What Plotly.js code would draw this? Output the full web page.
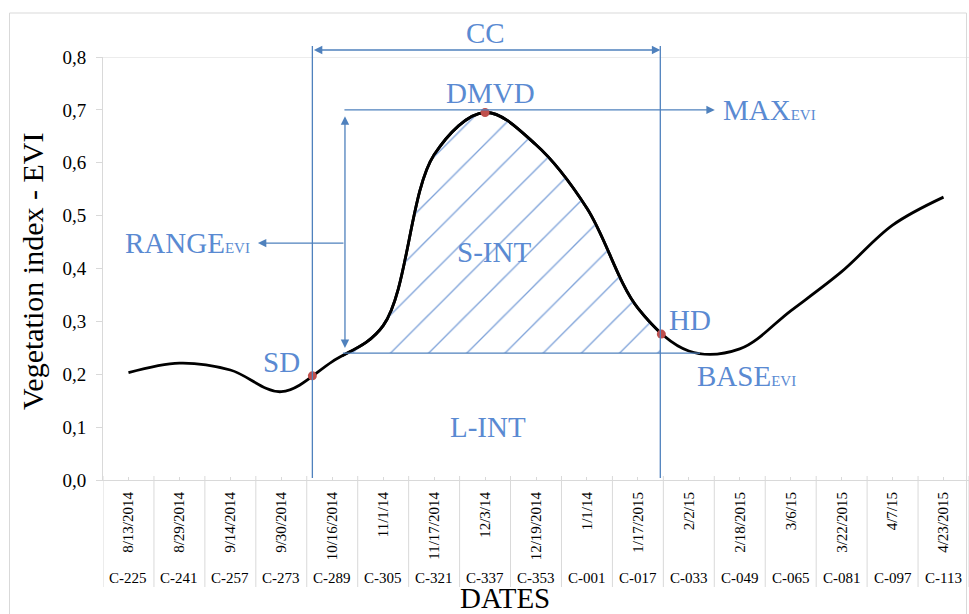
<!DOCTYPE html>
<html>
<head>
<meta charset="utf-8">
<script src="https://cdn.plot.ly/plotly-3.0.1.min.js"></script>
<style>html,body{margin:0;padding:0;background:#fff;}#chart{width:969px;height:614px;}</style>
</head>
<body>
<div id="chart"></div>
<script>
// ---- data ----
const dates = ["8/13/2014","8/29/2014","9/14/2014","9/30/2014","10/16/2014","11/1/14","11/17/2014","12/3/14","12/19/2014","1/1/14","1/17/2015","2/2/15","2/18/2015","3/6/15","3/22/2015","4/7/15","4/23/2015"];
const codes = ["C-225","C-241","C-257","C-273","C-289","C-305","C-321","C-337","C-353","C-001","C-017","C-033","C-049","C-065","C-081","C-097","C-113"];
const evi = [0.203,0.221,0.208,0.167,0.224,0.292,0.615,0.695,0.634,0.514,0.325,0.244,0.248,0.320,0.394,0.482,0.535];
const eventNames = ["SD","DMVD","HD"];
const eventX = [3.61, 7.0, 10.46];
const eventY = [0.197, 0.695, 0.276];
const baseEVI = 0.24;
const maxEVI = 0.70;
const hatchStart = 4.21;   // where the curve rises through BASE
const hatchEnd = 10.44;    // HD date

const idx = dates.map((d,i)=>i);
const n = dates.length;
const lineBlue = '#4F81BD';
const textBlue = '#5A8AD2';
const gray = '#D9D9D9';
const serif = 'Liberation Serif, Times New Roman, serif';

const traces = [
  {x: idx, y: evi, xaxis:'x', yaxis:'y', type:'scatter', mode:'lines',
   line:{color:'#000', width:2.8, shape:'spline', smoothing:1}, hoverinfo:'skip'},
  {x:[idx[0], idx[n-1]], y:[baseEVI, baseEVI], xaxis:'x2', yaxis:'y', type:'scatter', mode:'lines',
   line:{width:0, color:'rgba(0,0,0,0)'}, hoverinfo:'skip'},
  {x: idx, y: evi, xaxis:'x2', yaxis:'y', type:'scatter', mode:'lines', fill:'tonexty',
   fillcolor:'rgba(0,0,0,0)',
   fillpattern:{shape:'/', size:27, solidity:0.05, fgcolor:'#7FA3D9', bgcolor:'rgba(0,0,0,0)', fillmode:'replace'},
   line:{color:'#000', width:2.8, shape:'spline', smoothing:1}, hoverinfo:'skip'},
  {x: eventX, y: eventY, text: eventNames, xaxis:'x3', yaxis:'y', type:'scatter', mode:'markers',
   marker:{color:'#C0504D', size:9}, hoverinfo:'skip', cliponaxis:false}
];

const shapes = [];
// outer frame
shapes.push({type:'rect', xref:'paper', yref:'paper', x0:(9.5-103)/866, x1:(966.5-103)/866, y0:-0.35, y1:(480-13)/423,
  line:{color:gray, width:1}, fillcolor:'rgba(0,0,0,0)', layer:'below'});
// top line at 0.8
shapes.push({type:'line', xref:'paper', yref:'y', x0:0, x1:1, y0:0.8, y1:0.8, line:{color:gray, width:1}, layer:'below'});
// category separators
for (let i=0;i<=n;i++){
  shapes.push({type:'line', xref:'x', yref:'paper', x0:i-0.5, x1:i-0.5, y0:(480-587)/423, y1:(480-476)/423,
    line:{color:gray, width:1}, layer:'below'});
}
// CC vertical lines (SD and HD)
[eventX[0], hatchEnd].forEach(xv=>{
  shapes.push({type:'line', xref:'x', yref:'paper', x0:xv, x1:xv, y0:(480-478)/423, y1:(480-46)/423,
    line:{color:lineBlue, width:1.3}});
});
// BASE line
shapes.push({type:'line', xref:'x', yref:'y', x0:hatchStart, x1:11.22, y0:baseEVI, y1:baseEVI, line:{color:lineBlue, width:1.3}});

const annotations = [];
const arrowCommon = {text:'', showarrow:true, arrowhead:2, arrowsize:1.3, arrowwidth:1.3, arrowcolor:lineBlue, standoff:0, startstandoff:0};
// CC double arrow
annotations.push(Object.assign({}, arrowCommon, {xref:'x', yref:'paper', x:hatchEnd, y:(480-50)/423, axref:'x', ax:eventX[0], ayref:'pixel', ay:0, arrowside:'end+start'}));
// MAX line with arrow
annotations.push(Object.assign({}, arrowCommon, {xref:'x', yref:'y', x:11.51, y:maxEVI, axref:'x', ax:hatchStart, ayref:'y', ay:maxEVI}));
// RANGE vertical double arrow
annotations.push(Object.assign({}, arrowCommon, {xref:'x', yref:'y', x:4.25, y:0.688, axref:'x', ax:4.25, ayref:'y', ay:0.247, arrowside:'end+start'}));
// RANGE horizontal arrow
annotations.push(Object.assign({}, arrowCommon, {xref:'x', yref:'y', x:2.54, y:0.448, axref:'x', ax:4.25, ayref:'y', ay:0.448}));

const lab = (t, x, y, xa, xref, yref, size) => ({text:t, x:x, y:y, xref:xref||'x', yref:yref||'y', xanchor:xa||'center', yanchor:'middle',
  showarrow:false, font:{family:serif, size:size||29, color:textBlue}});
const sub = s => '<span style="font-size:15px">'+s+'</span>';
annotations.push(lab('CC', 7.0, (480-33)/423, 'center', 'x', 'paper'));
annotations.push(lab('DMVD', 7.11, 0.731));
annotations.push(lab('MAX'+sub('EVI'), 11.63, maxEVI, 'left'));
annotations.push(lab('RANGE'+sub('EVI'), 2.43, 0.448, 'right'));
annotations.push(lab('S-INT', 7.18, 0.431));
annotations.push(lab('SD', 3.0, 0.224));
annotations.push(lab('HD', 11.02, 0.303));
annotations.push(lab('BASE'+sub('EVI'), 11.12, 0.197, 'left'));
annotations.push(lab('L-INT', 7.06, 0.101));

// code row
codes.forEach((c,i)=>{
  annotations.push({text:c, x:i, y:(480-578)/423, xref:'x', yref:'paper', xanchor:'center', yanchor:'middle', showarrow:false,
    font:{family:serif, size:15, color:'#000'}});
});
// axis titles
annotations.push({text:'DATES', x:(505-103)/866, y:(480-598)/423, xref:'paper', yref:'paper', xanchor:'center', yanchor:'middle', showarrow:false,
  font:{family:serif, size:29, color:'#000'}});
annotations.push({text:'Vegetation index - EVI', x:(32-103)/866, y:(480-272)/423, xref:'paper', yref:'paper', xanchor:'center', yanchor:'middle',
  textangle:-90, showarrow:false, font:{family:serif, size:30, color:'#000'}});

const layout = {
  width:969, height:614,
  margin:{l:103, r:0, t:57, b:134, pad:0},
  paper_bgcolor:'#fff', plot_bgcolor:'rgba(0,0,0,0)',
  separators:', ',
  showlegend:false,
  font:{family:serif, color:'#000'},
  xaxis:{range:[-0.5, n-0.5], domain:[0,1], anchor:'y', showgrid:false, zeroline:false,
    showline:true, linecolor:gray, linewidth:1,
    tickmode:'array', tickvals:idx, ticktext:dates, tickangle:-90,
    ticks:'inside', ticklen:3, tickcolor:gray, ticklabelstandoff:5,
    tickfont:{family:serif, size:15, color:'#000'}, fixedrange:true},
  xaxis2:{range:[hatchStart, hatchEnd], domain:[(hatchStart+0.5)/n, (hatchEnd+0.5)/n], anchor:'y', visible:false, fixedrange:true},
  xaxis3:{range:[-0.5, n-0.5], domain:[0,1], anchor:'y', visible:false, fixedrange:true},
  yaxis:{range:[0,0.8], domain:[0,1], anchor:'x', dtick:0.1, tick0:0, tickformat:'.1f', showgrid:false, zeroline:false,
    showline:true, linecolor:gray, linewidth:1, ticks:'outside', ticklen:6, tickcolor:gray, ticklabelstandoff:6,
    tickfont:{family:serif, size:19, color:'#000'}, fixedrange:true},
  shapes:shapes,
  annotations:annotations
};

Plotly.newPlot('chart', traces, layout, {staticPlot:true, displayModeBar:false});
</script>
</body>
</html>
